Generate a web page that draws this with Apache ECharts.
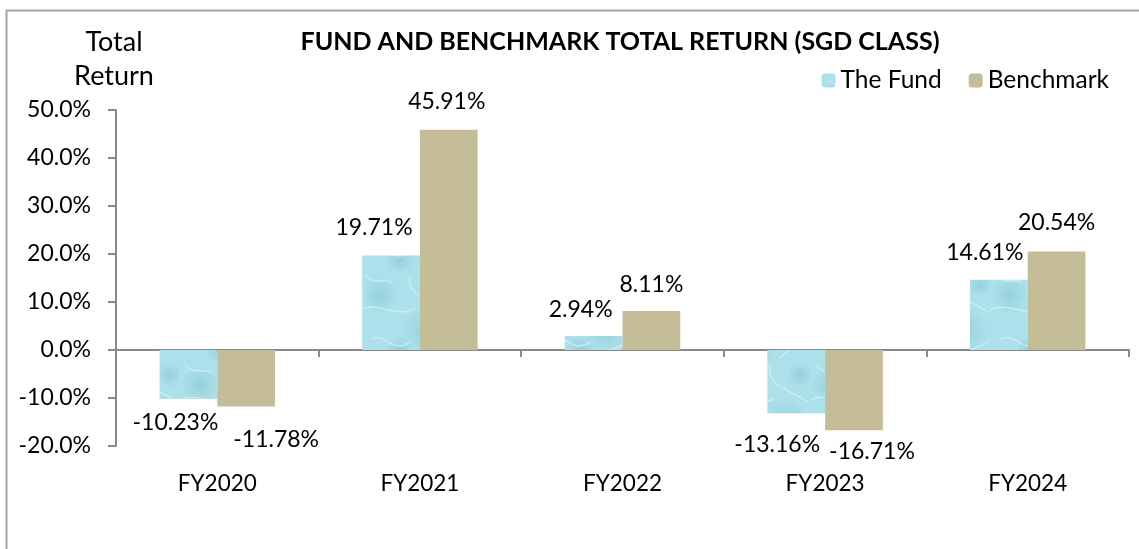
<!DOCTYPE html>
<html>
<head>
<meta charset="utf-8">
<script src="https://cdn.jsdelivr.net/npm/echarts@6/dist/echarts.min.js"></script>
<style>
  html, body { margin: 0; padding: 0; background: #fff; }
  #main { width: 1139px; height: 549px; }
</style>
</head>
<body>
<div id="main"></div>
<script>
// data
var categories = ['FY2020', 'FY2021', 'FY2022', 'FY2023', 'FY2024'];
var fundReturns = [-10.23, 19.71, 2.94, -13.16, 14.61];
var benchReturns = [-11.78, 45.91, 8.11, -16.71, 20.54];
var yTicks = { min: -20, max: 50, step: 10 };

// label nudges (px) so the labels sit like in the original
var fundNudge = [[-13, 7], [-17, -11], [-13, -10], [-19, 15], [-14, -11]];
var benchNudge = [[30, 17], [-2, -12], [0, -10], [18, 5], [0, -12]];

var FONT = 'Lato';

// watery cyan texture for the fund bars
function waterPattern() {
  var c = document.createElement('canvas');
  c.width = 90; c.height = 90;
  var ctx = c.getContext('2d');
  ctx.fillStyle = '#ACE0EA';
  ctx.fillRect(0, 0, 90, 90);
  var blobs = [[20, 25, 18], [65, 60, 22], [40, 80, 14], [80, 15, 12]];
  blobs.forEach(function (b) {
    var g = ctx.createRadialGradient(b[0], b[1], 1, b[0], b[1], b[2]);
    g.addColorStop(0, 'rgba(125,192,206,0.45)');
    g.addColorStop(1, 'rgba(125,192,206,0)');
    ctx.fillStyle = g;
    ctx.fillRect(0, 0, 90, 90);
  });
  ctx.strokeStyle = 'rgba(222,246,249,0.55)';
  ctx.lineWidth = 1.5;
  ctx.beginPath();
  ctx.moveTo(0, 40); ctx.bezierCurveTo(20, 30, 35, 50, 55, 38);
  ctx.moveTo(50, 5); ctx.bezierCurveTo(45, 25, 70, 30, 88, 42);
  ctx.moveTo(10, 70); ctx.bezierCurveTo(25, 60, 30, 85, 50, 72);
  ctx.moveTo(60, 88); ctx.bezierCurveTo(70, 75, 80, 80, 90, 70);
  ctx.moveTo(5, 5); ctx.bezierCurveTo(15, 15, 20, 8, 32, 12);
  ctx.stroke();
  return c;
}

function pct(v) { return v.toFixed(2) + '%'; }

function labelled(values, nudge) {
  return values.map(function (v, i) {
    return {
      value: v,
      label: {
        position: v < 0 ? 'bottom' : 'top',
        offset: nudge[i]
      }
    };
  });
}

var chart = echarts.init(document.getElementById('main'), null, { renderer: 'canvas' });

var option = {
  backgroundColor: '#fff',
  animation: false,
  textStyle: { fontFamily: FONT },
  graphic: [
    {
      type: 'rect',
      shape: { x: 6.5, y: 10.5, width: 1300, height: 700 },
      style: { fill: null, stroke: '#A6A6A6', lineWidth: 2 },
      silent: true
    },
    {
      type: 'text',
      x: 620, y: 29,
      style: {
        text: 'FUND AND BENCHMARK TOTAL RETURN (SGD CLASS)',
        font: 'bold 25px ' + FONT, fill: '#000',
        align: 'center'
      }
    },
    {
      type: 'text',
      x: 114, y: 25,
      style: {
        text: 'Total\nReturn',
        font: '27px ' + FONT, fill: '#000',
        align: 'center', lineHeight: 34
      }
    }
  ],
  legend: {
    right: 25, top: 63,
    itemWidth: 14, itemHeight: 14, itemGap: 27,
    textStyle: { fontSize: 24.5, fontFamily: FONT, color: '#000' },
    data: ['The Fund', 'Benchmark']
  },
  grid: { left: 116, right: 10, top: 110, bottom: 103 },
  xAxis: [
    {
      type: 'category',
      data: categories,
      axisLine: { onZero: true, lineStyle: { color: '#898989', width: 2 } },
      axisTick: { show: true, interval: 0, length: 7, lineStyle: { color: '#898989', width: 2 } },
      axisLabel: { show: false }
    },
    {
      type: 'category',
      data: categories,
      position: 'bottom',
      axisLine: { show: false, onZero: false },
      axisTick: { show: false },
      axisLabel: { margin: 26, fontSize: 22.5, fontFamily: FONT, color: '#000' }
    }
  ],
  yAxis: {
    type: 'value',
    min: yTicks.min, max: yTicks.max, interval: yTicks.step,
    axisLine: { show: true, lineStyle: { color: '#898989', width: 2 } },
    axisTick: { show: true, length: 8, lineStyle: { color: '#898989', width: 2 } },
    splitLine: { show: false },
    axisLabel: {
      margin: 25, fontSize: 23, fontFamily: FONT, color: '#000',
      formatter: function (v) { return v.toFixed(1) + '%'; }
    }
  },
  series: [
    {
      name: 'The Fund',
      type: 'bar',
      xAxisIndex: 0,
      barGap: '0%',
      barCategoryGap: '43%',
      itemStyle: { color: { image: waterPattern(), repeat: 'repeat' } },
      label: {
        show: true, fontSize: 23, fontFamily: FONT, color: '#000',
        formatter: function (p) { return pct(p.value); }
      },
      data: labelled(fundReturns, fundNudge)
    },
    {
      name: 'Benchmark',
      type: 'bar',
      xAxisIndex: 0,
      itemStyle: { color: '#C4BD97' },
      label: {
        show: true, fontSize: 23, fontFamily: FONT, color: '#000',
        formatter: function (p) { return pct(p.value); }
      },
      data: labelled(benchReturns, benchNudge)
    }
  ]
};

chart.setOption(option);
</script>
</body>
</html>
